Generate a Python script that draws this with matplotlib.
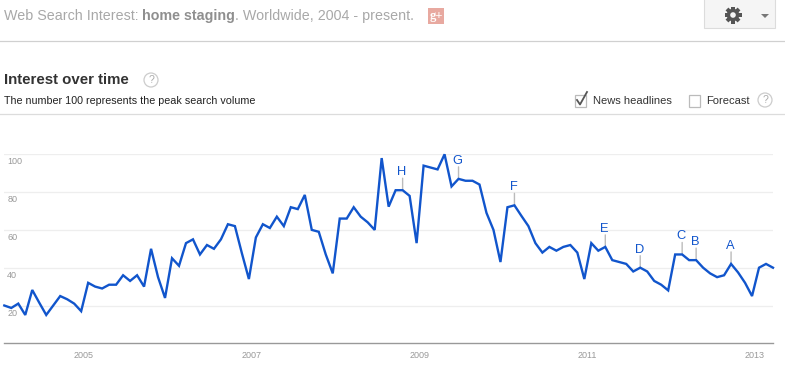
import matplotlib
matplotlib.use("Agg")
import matplotlib.pyplot as plt
from matplotlib.patches import Circle, Rectangle, Polygon

W, H = 785, 368
plt.rcParams['font.family'] = ['Liberation Sans', 'DejaVu Sans']

interest = [20, 18.7, 21, 15, 28.2, 21.5, 15, 20, 25, 23.3, 21, 17,
            32, 30, 29, 31, 31, 36, 33, 36, 30, 50, 35, 24,
            45, 41, 53, 55, 47, 52, 50, 55, 63, 62, 47.6, 34,
            56, 63, 61, 67, 62, 72, 71, 78.5, 60, 59, 47, 37,
            66, 66, 72, 67, 64, 60, 98, 72.3, 81, 81, 78, 53,
            94, 93, 92, 100, 83, 87, 86, 86, 84, 69, 60, 43,
            72, 73, 67.4, 62, 53, 48, 51, 49, 51, 52, 48, 34,
            53, 49, 51, 44, 43, 42, 38, 40, 38, 33, 31, 28,
            47, 47, 44, 44, 40, 37, 35, 36, 42, 37.5, 32, 25,
            40, 42, 40]
year_labels = ['2005', '2007', '2009', '2011', '2013']
year_positions = [11.4, 35.4, 59.4, 83.4, 107.4]
y_values = [20, 40, 60, 80, 100]
news_letters = ['H', 'G', 'F', 'E', 'D', 'C', 'B', 'A']
news_months = [57, 65, 73, 86, 91, 97, 99, 104]

BLUE = '#1155cc'
GREY = '#999999'

fig = plt.figure(figsize=(W / 100, H / 100), dpi=100, facecolor='white')

# page furniture, in pixel coordinates
ui = fig.add_axes([0, 0, 1, 1])
ui.set_xlim(0, W)
ui.set_ylim(H, 0)
ui.axis('off')

ui.plot([0, W], [40.5, 40.5], color='#d0d0d0', lw=0.9)
ui.plot([0, W], [113.5, 113.5], color='#dcdcdc', lw=0.9)

hdr = dict(color='#a8a8a8', fontsize=10.25, va='center', ha='left')
ui.text(4, 16, 'Web Search Interest:', **hdr)
ui.text(142, 16, 'home staging', **{**hdr, 'color': '#8f8f8f'}, fontweight='bold')
ui.text(235, 16, '. Worldwide, 2004 - present.', **hdr)

ui.add_patch(Rectangle((428, 8), 16, 16, fc='#e8a9a0', ec='none'))
ui.text(436, 16, 'g+', color='white', fontsize=9, ha='center', va='center',
        fontweight='bold', family='Liberation Serif')

ui.add_patch(Rectangle((703.5, -2), 71, 30, fc='#f5f5f5', ec='#dcdcdc', lw=0.8))
for k in range(4):
    ang = k * 45
    t = matplotlib.transforms.Affine2D().rotate_deg_around(733, 15, ang) + ui.transData
    ui.add_patch(Rectangle((724.5, 13), 17, 4, fc='#555555', ec='none', transform=t))
ui.add_patch(Circle((733, 15), 6.3, fc='#555555', ec='none'))
ui.add_patch(Circle((733, 15), 2.8, fc='#f5f5f5', ec='none'))
ui.add_patch(Polygon([[761, 14], [769, 14], [765, 18]], fc='#777777', ec='none'))

ui.text(4, 79.5, 'Interest over time', color='#333333', fontsize=10.8,
        fontweight='bold', va='center', ha='left')
ui.text(4, 101.5, 'The number 100 represents the peak search volume', color='#222222',
        fontsize=7.75, va='center', ha='left')


def help_icon(x, y):
    ui.add_patch(Circle((x, y), 7, fc='white', ec='#cccccc', lw=0.9))
    ui.text(x, y + 0.3, '?', color='#aaaaaa', fontsize=7.5, ha='center', va='center')


help_icon(151, 80)
help_icon(765, 100)

ui.add_patch(Rectangle((574.5, 94.5), 11, 12, fc='white', ec='#bbbbbb', lw=0.9))
ui.plot([577, 580, 587], [100, 104.5, 92], color='#555555', lw=1.3)
ui.text(593, 100.5, 'News headlines', color='#333333', fontsize=8, va='center', ha='left')
ui.add_patch(Rectangle((688.5, 94.5), 11, 12, fc='white', ec='#bbbbbb', lw=0.9))
ui.text(706, 100.5, 'Forecast', color='#333333', fontsize=8, va='center', ha='left')

# chart
left, right, top, bottom = 4.3, 773, 154.3, 343.3
ax = fig.add_axes([left / W, 1 - bottom / H, (right - left) / W, (bottom - top) / H])
ax.patch.set_alpha(0)
ax.set_xlim(0, len(interest) - 1)
ax.set_ylim(0, 100)
for s in ('top', 'left', 'right'):
    ax.spines[s].set_visible(False)
ax.spines['bottom'].set_color(GREY)
ax.spines['bottom'].set_linewidth(1.0)

ax.set_yticks(y_values)
ax.set_yticklabels([])
ax.tick_params(axis='y', length=0)
ax.grid(axis='y', color='#eeeeee', lw=0.9)
ax.set_axisbelow(True)

ax.set_xticks(year_positions)
ax.set_xticklabels(year_labels, color=GREY, fontsize=6.5)
ax.tick_params(axis='x', length=0, pad=5.2)

for v in y_values:
    ax.annotate(str(v), xy=(0, v), xycoords=ax.get_yaxis_transform(),
                xytext=(3, -7.5), textcoords='offset pixels',
                color=GREY, fontsize=6.5, ha='left', va='center')

ax.plot(range(len(interest)), interest, color=BLUE, lw=1.7, clip_on=False,
        solid_joinstyle='miter', zorder=3)

for letter, m in zip(news_letters, news_months):
    ax.annotate('', xy=(m, interest[m]), xytext=(0, 12), textcoords='offset pixels',
                arrowprops=dict(arrowstyle='-', color='#bbbbbb', lw=1,
                                shrinkA=0, shrinkB=0), zorder=2)
    ax.annotate(letter, xy=(m, interest[m]), xytext=(-0.7, 18),
                textcoords='offset pixels', color=BLUE, fontsize=9.3,
                ha='center', va='center', annotation_clip=False)

fig.savefig('out.png', dpi=100)
